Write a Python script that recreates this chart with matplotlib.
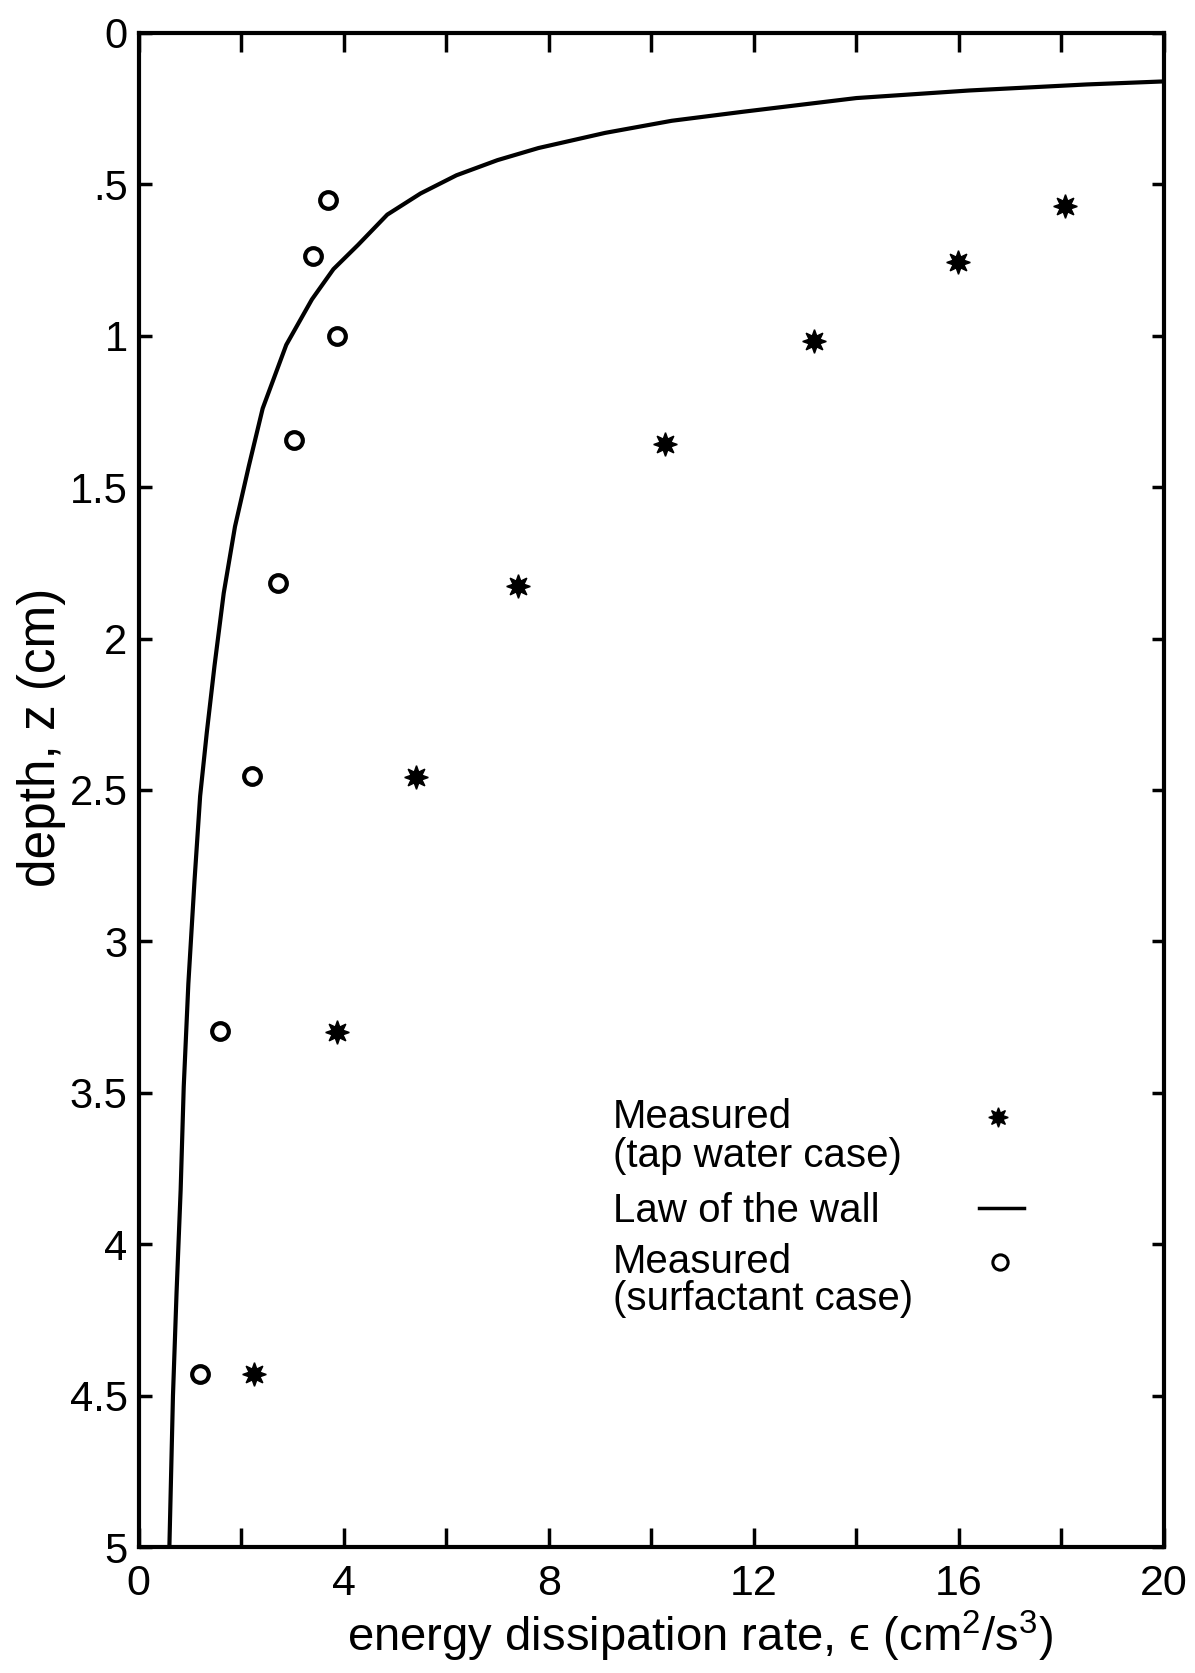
import matplotlib
matplotlib.use("Agg")
import matplotlib.pyplot as plt

plt.rcParams['font.family'] = ['Liberation Sans', 'DejaVu Sans']
plt.rcParams['mathtext.fontset'] = 'custom'
plt.rcParams['mathtext.rm'] = 'Liberation Sans'
plt.rcParams['mathtext.it'] = 'Liberation Sans:italic'

# measured, tap water case (stars)
tap_eps = [18.07, 15.98, 13.17, 10.26, 7.40, 5.41, 3.87, 2.26]
tap_z = [0.572, 0.757, 1.018, 1.358, 1.825, 2.456, 3.30, 4.43]

# measured, surfactant case (circles)
surf_eps = [3.70, 3.41, 3.87, 3.03, 2.72, 2.22, 1.59, 1.19]
surf_z = [0.551, 0.737, 1.00, 1.344, 1.818, 2.453, 3.295, 4.43]

# law of the wall curve
wall_eps = [20.0, 18.5, 16.2, 14.0, 11.8, 10.4, 9.1, 7.8, 7.0, 6.2, 5.5, 4.85,
            4.28, 3.8, 3.38, 2.88, 2.42, 2.15, 1.88, 1.66, 1.48, 1.33, 1.2,
            1.09, 0.97, 0.88, 0.82, 0.74, 0.67, 0.60]
wall_z = [0.16, 0.17, 0.19, 0.215, 0.26, 0.29, 0.33, 0.38, 0.42, 0.47, 0.53,
          0.60, 0.70, 0.78, 0.88, 1.03, 1.24, 1.43, 1.63, 1.85, 2.09, 2.31,
          2.52, 2.80, 3.14, 3.48, 3.82, 4.16, 4.50, 5.0]

xticks = [0, 4, 8, 12, 16, 20]
yticks = [0, 0.5, 1, 1.5, 2, 2.5, 3, 3.5, 4, 4.5, 5]
ylabels = ['0', '.5', '1', '1.5', '2', '2.5', '3', '3.5', '4', '4.5', '5']

fig = plt.figure(figsize=(11.95, 16.73), dpi=100)
ax = fig.add_axes([0.116, 0.0753, 0.858, 0.905])

star = (8, 1, 0)
ax.plot(wall_eps, wall_z, color='black', lw=3.0)
ax.plot(tap_eps, tap_z, ls='none', marker=star, ms=17, color='black')
ax.plot(surf_eps, surf_z, ls='none', marker='o', ms=12, mfc='white',
        mec='black', mew=3)

# legend drawn as text + marks in data coordinates
fs = 29
ax.text(9.25, 3.58, 'Measured', fontsize=fs, va='center')
ax.text(9.25, 3.71, '(tap water case)', fontsize=fs, va='center')
ax.text(9.25, 3.89, 'Law of the wall', fontsize=fs, va='center')
ax.text(9.25, 4.06, 'Measured', fontsize=fs, va='center')
ax.text(9.25, 4.18, '(surfactant case)', fontsize=fs, va='center')
ax.plot([16.76], [3.58], marker=star, ms=14, color='black')
ax.plot([16.4, 17.27], [3.88, 3.88], color='black', lw=2.5)
ax.plot([16.8], [4.06], marker='o', ms=11, mfc='white', mec='black', mew=2.2)

ax.set_xlim(0, 20)
ax.set_ylim(5, 0)
ax.set_xticks(range(0, 21, 2))
ax.set_xticklabels([str(v) if v in xticks else '' for v in range(0, 21, 2)])
ax.set_yticks(yticks)
ax.set_yticklabels(ylabels)

for s in ax.spines.values():
    s.set_linewidth(3)
ax.tick_params(axis='both', direction='in', width=2.5, labelsize=30,
               top=True, right=True)
ax.tick_params(axis='x', length=14, pad=12, labelsize=31)
ax.tick_params(axis='y', length=9, pad=8)

ax.set_ylabel('depth, z (cm)', fontsize=37)
ax.yaxis.set_label_coords(-0.071, 0.535)
ax.set_xlabel('energy dissipation rate, \u03f5 (cm$^2$/s$^3$)', fontsize=34)
ax.xaxis.set_label_coords(0.548, -0.041)

fig.savefig('out.png', dpi=100)
